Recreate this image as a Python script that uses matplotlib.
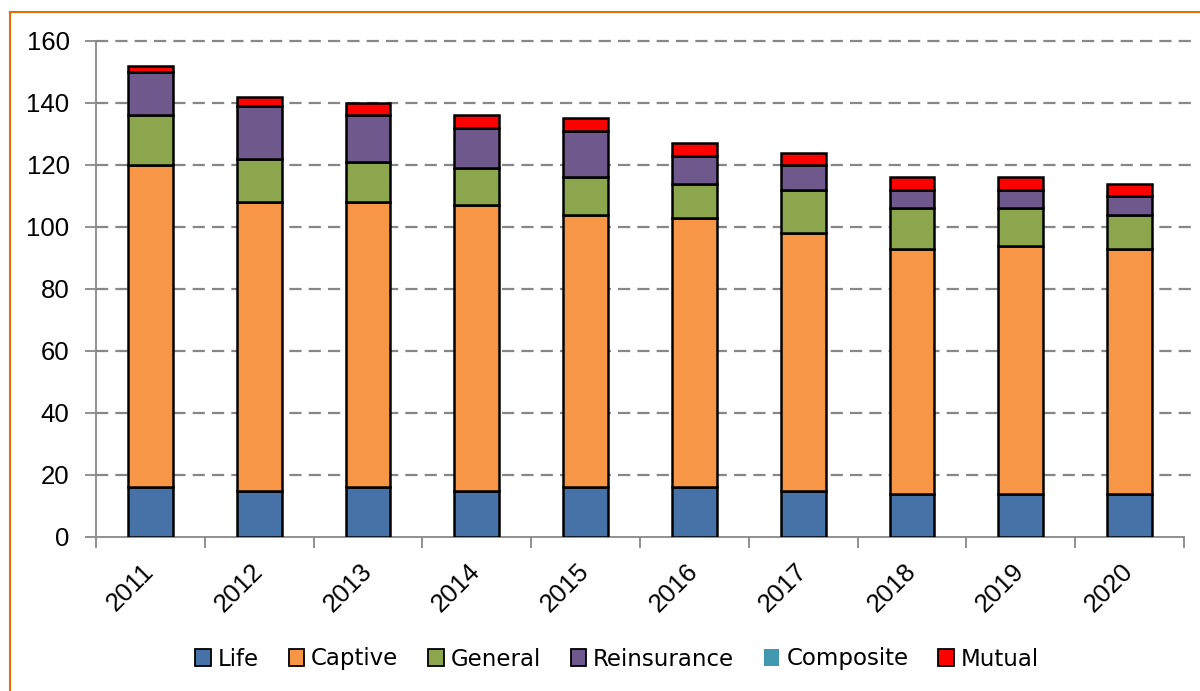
import matplotlib
matplotlib.use("Agg")
import matplotlib.pyplot as plt
import numpy as np
from matplotlib.patches import Patch
from matplotlib.lines import Line2D

years = ["2011", "2012", "2013", "2014", "2015", "2016", "2017", "2018", "2019", "2020"]
life = [16, 15, 16, 15, 16, 16, 15, 14, 14, 14]
captive = [104, 93, 92, 92, 88, 87, 83, 79, 80, 79]
general = [16, 14, 13, 12, 12, 11, 14, 13, 12, 11]
reinsurance = [14, 17, 15, 13, 15, 9, 8, 6, 6, 6]
composite = [0, 0, 0, 0, 0, 0, 0, 0, 0, 0]
mutual = [2, 3, 4, 4, 4, 4, 4, 4, 4, 4]

series = [("Life", life, "#4672A8"), ("Captive", captive, "#F79646"),
          ("General", general, "#8BA64D"), ("Reinsurance", reinsurance, "#6F588C"),
          ("Composite", composite, "#4198AF"), ("Mutual", mutual, "#FF0000")]

plt.rcParams['font.family'] = ['Liberation Sans', 'DejaVu Sans']
fig = plt.figure(figsize=(12, 6.91), dpi=100)
ax = fig.add_axes([96 / 1200, 1 - 537 / 691, 1088 / 1200, 496 / 691])

x = np.arange(len(years))
bottom = np.zeros(len(years))
for name, vals, col in series:
    v = np.array(vals, dtype=float)
    if name != "Composite":
        ax.bar(x, v, 0.41, bottom=bottom, color=col, edgecolor="black", linewidth=1.8, zorder=3)
    bottom += v

ax.set_xlim(-0.5, len(years) - 0.5)
ax.set_ylim(0, 160)
yt = np.arange(0, 161, 20)
ax.set_yticks(yt)
ax.tick_params(axis='y', labelsize=18.5, length=8, width=1.3, color="#888888",
               direction='out', pad=11)
ax.set_xticks(x)
ax.set_xticklabels(years, rotation=45, fontsize=18.5, ha='right', va='center',
                   rotation_mode='anchor')
ax.tick_params(axis='x', which='major', length=0, pad=22)
ax.set_xticks(np.arange(-0.5, len(years), 1), minor=True)
ax.tick_params(axis='x', which='minor', length=8, color="#888888", width=1.3)

# dashed gridlines extending a little past the plot area
for yv in yt[1:]:
    ax.add_line(Line2D([0, 1.01], [yv, yv], transform=ax.get_yaxis_transform(),
                       color="#878787", linewidth=1.6, dashes=(5.5, 3.2),
                       clip_on=False, zorder=1))

for s in ["top", "right"]:
    ax.spines[s].set_visible(False)
ax.spines["left"].set_color("#888888")
ax.spines["bottom"].set_color("#888888")
ax.spines["left"].set_linewidth(1.3)
ax.spines["bottom"].set_linewidth(1.3)

handles = []
for name, vals, col in series:
    if name == "Composite":
        handles.append(Patch(facecolor=col, edgecolor=col, linewidth=0))
    else:
        handles.append(Patch(facecolor=col, edgecolor="black", linewidth=1.3))
fig.legend(handles, [s[0] for s in series], loc="center", bbox_to_anchor=(617 / 1200, 1 - 659 / 691),
           ncol=6, frameon=False, prop={'family': 'DejaVu Sans', 'size': 16.5},
           handlelength=0.68, handleheight=0.73, handletextpad=0.3, columnspacing=1.3)

# orange frame (left and top edges visible)
fig.add_artist(Line2D([10 / 1200, 10 / 1200], [0, 1 - 12 / 691], transform=fig.transFigure,
                      color="#E46C0A", linewidth=1.5))
fig.add_artist(Line2D([10 / 1200, 1], [1 - 12 / 691, 1 - 12 / 691], transform=fig.transFigure,
                      color="#E46C0A", linewidth=1.5))

fig.savefig("out.png", dpi=100)
